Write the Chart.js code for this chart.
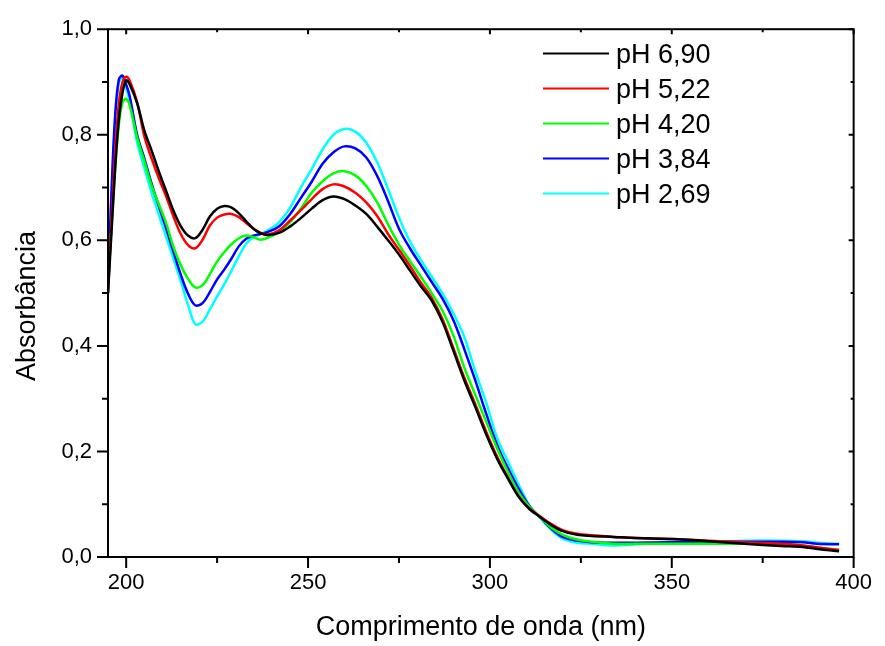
<!DOCTYPE html>
<html>
<head>
<meta charset="utf-8">
<script src="https://cdn.jsdelivr.net/npm/chart.js@4"></script>
<style>
  html, body { margin: 0; padding: 0; background: #fff; }
  #wrap { width: 885px; height: 646px; position: relative; }
</style>
</head>
<body>
<div id="wrap"><canvas id="uv-chart"></canvas></div>
<script>
// wavelength (nm) shared by every spectrum
const wavelengths = [195, 196, 197, 198, 199, 200, 201,
  203, 205, 207, 209, 211, 213, 215, 217, 219, 221, 223, 225, 227, 229, 231, 233, 235, 237, 239,
  242, 245, 248, 251, 254, 257, 260, 263, 266, 269, 272, 275, 278, 281, 284, 287, 290, 293, 296, 299,
  302, 305, 308, 311, 314, 317, 320,
  324, 328, 334, 340, 350, 360, 370, 380, 386, 390, 396];

const ph690 = [0.50, 0.62, 0.74, 0.83, 0.88, 0.903, 0.895,
  0.86, 0.808, 0.77, 0.73, 0.693, 0.656, 0.627, 0.609, 0.604, 0.620, 0.645, 0.660, 0.665, 0.662, 0.651, 0.636, 0.622, 0.613, 0.610,
  0.614, 0.626, 0.642, 0.660, 0.676, 0.683, 0.678, 0.666, 0.650, 0.626, 0.600, 0.573, 0.543, 0.513, 0.486, 0.445, 0.390, 0.334, 0.284, 0.232,
  0.186, 0.148, 0.113, 0.090, 0.075, 0.060, 0.049,
  0.042, 0.040, 0.038, 0.036, 0.034, 0.030, 0.025, 0.021, 0.019, 0.015, 0.011];

const ph522 = [0.50, 0.64, 0.77, 0.86, 0.90, 0.910, 0.902,
  0.862, 0.797, 0.755, 0.717, 0.683, 0.645, 0.612, 0.591, 0.585, 0.601, 0.628, 0.643, 0.649, 0.650, 0.644, 0.633, 0.622, 0.614, 0.611,
  0.619, 0.637, 0.657, 0.678, 0.697, 0.706, 0.702, 0.690, 0.672, 0.646, 0.612, 0.582, 0.552, 0.520, 0.491, 0.450, 0.395, 0.339, 0.289, 0.237,
  0.190, 0.150, 0.114, 0.091, 0.076, 0.062, 0.051,
  0.044, 0.041, 0.038, 0.036, 0.034, 0.031, 0.028, 0.025, 0.022, 0.018, 0.013];

const ph420 = [0.52, 0.63, 0.74, 0.82, 0.862, 0.868, 0.855,
  0.795, 0.750, 0.703, 0.668, 0.632, 0.587, 0.553, 0.527, 0.511, 0.515, 0.536, 0.560, 0.578, 0.593, 0.604, 0.609, 0.606, 0.601, 0.605,
  0.616, 0.634, 0.660, 0.690, 0.712, 0.727, 0.731, 0.723, 0.703, 0.672, 0.630, 0.592, 0.561, 0.531, 0.500, 0.466, 0.419, 0.358, 0.307, 0.256,
  0.205, 0.160, 0.121, 0.094, 0.074, 0.055, 0.042,
  0.033, 0.029, 0.025, 0.025, 0.025, 0.025, 0.025, 0.024, 0.022, 0.018, 0.014];

const ph384 = [0.52, 0.70, 0.84, 0.905, 0.912, 0.895, 0.872,
  0.800, 0.755, 0.707, 0.664, 0.622, 0.578, 0.535, 0.499, 0.477, 0.481, 0.502, 0.526, 0.545, 0.566, 0.589, 0.603, 0.609, 0.612, 0.616,
  0.626, 0.649, 0.680, 0.711, 0.745, 0.767, 0.778, 0.774, 0.757, 0.722, 0.674, 0.622, 0.585, 0.553, 0.521, 0.489, 0.448, 0.393, 0.334, 0.271,
  0.212, 0.168, 0.128, 0.095, 0.074, 0.053, 0.038,
  0.031, 0.028, 0.027, 0.027, 0.028, 0.029, 0.029, 0.029, 0.028, 0.025, 0.024];

const ph269 = [0.50, 0.68, 0.83, 0.898, 0.908, 0.888, 0.862,
  0.786, 0.737, 0.690, 0.648, 0.606, 0.565, 0.523, 0.478, 0.441, 0.446, 0.469, 0.494, 0.517, 0.543, 0.570, 0.594, 0.606, 0.612, 0.619,
  0.634, 0.661, 0.700, 0.735, 0.772, 0.800, 0.811, 0.806, 0.785, 0.748, 0.697, 0.643, 0.598, 0.563, 0.531, 0.499, 0.461, 0.416, 0.351, 0.292,
  0.225, 0.180, 0.136, 0.096, 0.073, 0.051, 0.035,
  0.027, 0.025, 0.022, 0.024, 0.028, 0.029, 0.031, 0.031, 0.030, 0.027, 0.025];

const seriesLabels = ['pH 6,90', 'pH 5,22', 'pH 4,20', 'pH 3,84', 'pH 2,69'];
const seriesValues = [ph690, ph522, ph420, ph384, ph269];
const seriesColors = ['#000000', '#ff0000', '#00ff00', '#0000ff', '#00ffff'];
const xTicks = [200, 225, 250, 275, 300, 325, 350, 375, 400];

const FONT = '"Liberation Sans", Arial, Helvetica, sans-serif';

// box frame plus the tick marks on all four sides
const frameTicks = {
  id: 'frameTicks',
  afterDatasetsDraw(chart) {
    const { ctx, chartArea: a, scales: { x, y } } = chart;
    ctx.save();
    ctx.strokeStyle = '#000';
    ctx.lineWidth = 2;
    ctx.strokeRect(a.left, a.top, a.right - a.left, a.bottom - a.top);
    ctx.beginPath();
    x.ticks.forEach(t => {
      const px = x.getPixelForValue(t.value);
      const major = t.value % 50 === 0;
      ctx.moveTo(px, a.bottom); ctx.lineTo(px, a.bottom + (major ? 11 : 6));
      ctx.moveTo(px, a.top); ctx.lineTo(px, a.top + (major ? 5 : 3));
    });
    y.ticks.forEach(t => {
      const py = y.getPixelForValue(t.value);
      const major = Math.round(t.value * 10) % 2 === 0;
      ctx.moveTo(a.left, py); ctx.lineTo(a.left - (major ? 11 : 6), py);
      ctx.moveTo(a.right, py); ctx.lineTo(a.right - (major ? 5 : 3), py);
    });
    ctx.stroke();
    ctx.restore();
  }
};

// y title sits a little below the middle of the axis in the original
const yTitle = {
  id: 'yTitle',
  afterDraw(chart) {
    const ctx = chart.ctx;
    ctx.save();
    ctx.translate(35, 306);
    ctx.rotate(-Math.PI / 2);
    ctx.font = '27px ' + FONT;
    ctx.fillStyle = '#000';
    ctx.textAlign = 'center';
    ctx.textBaseline = 'alphabetic';
    ctx.fillText('Absorbância', 0, 0);
    ctx.restore();
  }
};

const insideLegend = {
  id: 'insideLegend',
  afterDraw(chart) {
    const ctx = chart.ctx;
    ctx.save();
    ctx.font = '27px ' + FONT;
    ctx.textBaseline = 'middle';
    ctx.fillStyle = '#000';
    chart.data.datasets.forEach((ds, i) => {
      const yy = 53.5 + i * 35;
      ctx.strokeStyle = ds.borderColor;
      ctx.lineWidth = 2;
      ctx.beginPath();
      ctx.moveTo(543, yy);
      ctx.lineTo(609, yy);
      ctx.stroke();
      ctx.fillText(ds.label, 616, yy + 2);
    });
    ctx.restore();
  }
};

new Chart(document.getElementById('uv-chart'), {
  type: 'line',
  data: {
    datasets: seriesLabels.map((label, i) => ({
      label,
      data: wavelengths.map((w, j) => ({ x: w, y: seriesValues[i][j] })),
      borderColor: seriesColors[i],
      backgroundColor: 'transparent',
      borderWidth: 2.5,
      pointRadius: 0,
      tension: 0.35,
      fill: false,
    })),
  },
  options: {
    responsive: true,
    maintainAspectRatio: false,
    animation: false,
    layout: { padding: { top: 21, right: 22, left: 0, bottom: 0 } },
    plugins: {
      legend: { display: false },
      tooltip: { enabled: false },
    },
    scales: {
      x: {
        type: 'linear',
        min: 195,
        max: 400,
        afterBuildTicks: s => { s.ticks = xTicks.map(v => ({ value: v })); },
        afterFit: s => { s.height = 89; },
        grid: { display: false, drawTicks: false },
        border: { display: false },
        ticks: {
          padding: 13,
          color: '#000',
          autoSkip: false,
          maxRotation: 0,
          font: { family: FONT, size: 22 },
          callback: v => (v % 50 === 0 ? String(v) : ''),
        },
        title: {
          display: true,
          text: 'Comprimento de onda (nm)',
          color: '#000',
          font: { family: FONT, size: 27 },
          padding: { top: 0, bottom: 2 },
        },
      },
      y: {
        min: 0,
        max: 1,
        afterFit: s => { s.width = 108; },
        grid: { display: false, drawTicks: false },
        border: { display: false },
        ticks: {
          stepSize: 0.1,
          padding: 16,
          color: '#000',
          autoSkip: false,
          font: { family: FONT, size: 22 },
          callback: v => (Math.round(v * 10) % 2 === 0 ? v.toFixed(1).replace('.', ',') : ''),
        },
      },
    },
  },
  plugins: [frameTicks, yTitle, insideLegend],
});
</script>
</body>
</html>
